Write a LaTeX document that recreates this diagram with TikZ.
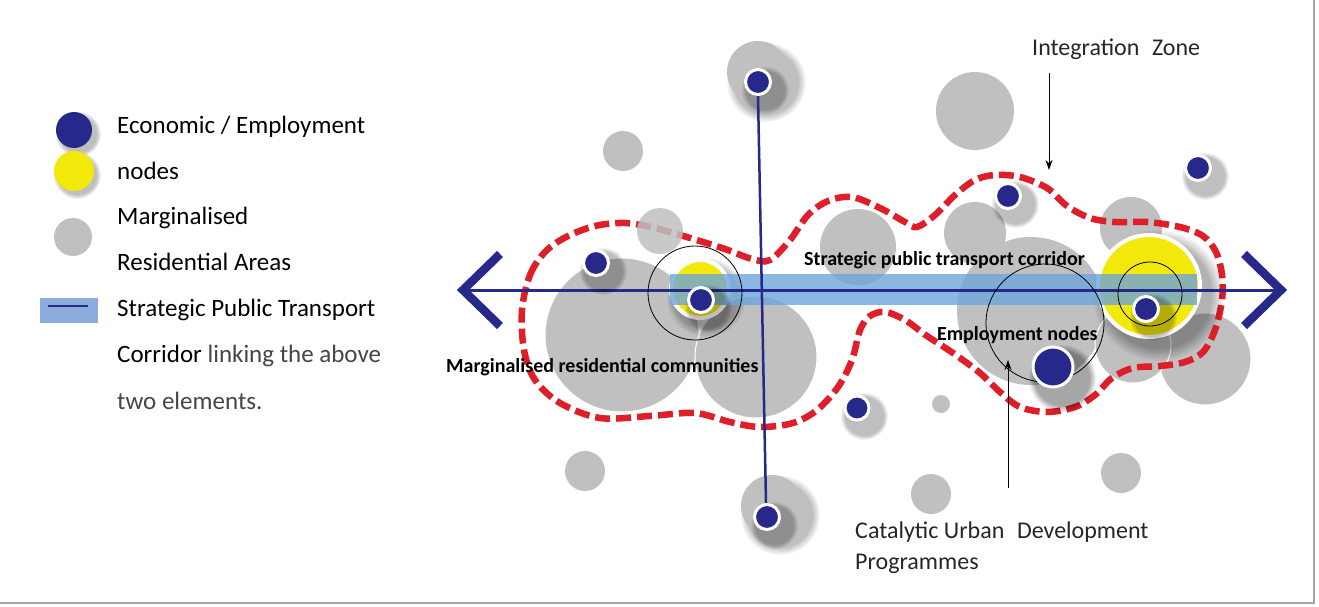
\documentclass[tikz,border=0pt]{standalone}
\usepackage{fontspec}
\setmainfont{Carlito}
\usetikzlibrary{arrows.meta,fadings,calc}
\definecolor{navy}{RGB}{38,40,138}
\definecolor{ylw}{RGB}{242,232,10}
\definecolor{gry}{RGB}{192,192,192}
\definecolor{zred}{RGB}{222,30,40}
\definecolor{band}{RGB}{110,165,220}
\definecolor{legblue}{RGB}{140,172,222}
\definecolor{txtgray}{RGB}{70,70,70}
\begin{document}
\begin{tikzpicture}[x=1pt,y=-1pt,
  gc/.style={circle,fill=gry,inner sep=0pt,minimum size=#1},
  yc/.style={circle,fill=ylw,draw=white,line width=4pt,inner sep=0pt,minimum size=#1},
  bd/.style={circle,fill=navy,draw=white,line width=3pt,inner sep=0pt,minimum size=#1},
  ring/.style={circle,draw=black,line width=0.8pt,inner sep=0pt,minimum size=#1},
  shd/.style={fill=black,fill opacity=0.25,path fading=circle with fuzzy edge 20 percent},
  legtxt/.style={font=\fontsize{25}{30}\selectfont,anchor=base west,inner sep=0pt},
  lbl/.style={font=\fontsize{24}{29}\selectfont,anchor=base west,inner sep=0pt,text=black!85},
  bold/.style={font=\fontsize{20}{24}\selectfont\bfseries,anchor=base west,inner sep=0pt},
  zone/.style={zred,line width=6.5pt,dash pattern=on 15pt off 6pt},
  navyline/.style={navy,line width=3pt},
  chev/.style={navy,line width=8.5pt},
  pointer/.style={black,line width=0.9pt,-{Stealth[length=10pt,width=7pt]}}
]
\useasboundingbox (0,0) rectangle (1319,607);
\fill[white] (0,0) rectangle (1319,607);
\draw[black!35,line width=2pt] (1314,0) -- (1314,603) -- (0,603);

% ---------- legend ----------
\fill[shd] (78,134) circle (23);
\node[circle,fill=navy,inner sep=0pt,minimum size=36pt] (lb) at (74,130) {};
\fill[shd] (77,175) circle (24);
\node[circle,fill=ylw,inner sep=0pt,minimum size=40pt] (ly) at (74,171) {};
\node[circle,fill=gry,inner sep=0pt,minimum size=38pt] (lg) at (73,237) {};
\node[rectangle,fill=legblue,inner sep=0pt,minimum width=58pt,minimum height=25pt] (lr) at (69,310.5) {};
\draw[navy,line width=1.5pt] ($(lr.west)+(8,-4.5)$) -- ($(lr.east)+(-10,-4.5)$);

\node[legtxt] (t1) at (117,133) {Economic / Employment};
\node[legtxt] (t2) at (117,179) {nodes};
\node[legtxt] (t3) at (117,224) {Marginalised};
\node[legtxt] (t4) at (117,270) {Residential Areas};
\node[legtxt] (t5) at (117,316) {Strategic Public Transport};
\node[legtxt] (t6) at (117,362) {Corridor \textcolor{txtgray}{linking the above}};
\node[legtxt,text=txtgray] (t7) at (117,409) {two elements.};

% ---------- gray residential areas ----------
\fill[shd] (766,82) circle (40);
\node[gc=62pt] (g1) at (758,72) {};
\node[gc=40pt] (g2) at (623,151) {};
\node[gc=154pt,draw=white,line width=1pt] (g4) at (622,335) {};
\node[gc=122pt,draw=white,line width=1pt] (g5) at (756,357) {};
\node[gc=40pt] (g6) at (585,471) {};
\fill[shd] (780,515) circle (40);
\node[gc=62pt] (g7) at (772,506) {};
\node[gc=78pt] (g8) at (975,111) {};
\node[gc=76pt] (g9) at (858,247) {};
\node[gc=62pt] (g10) at (975,233) {};
\node[gc=148pt] (g11) at (1031,311) {};
\node[gc=62pt] (g12) at (1131,228) {};
\node[gc=92pt,draw=white,line width=1pt] (g13) at (1205,359) {};
\node[gc=76pt,draw=white,line width=1pt] (g14) at (1133,345) {};
\node[gc=18pt] (g15) at (941,404) {};
\node[gc=40pt] (g16) at (931,494) {};
\node[gc=40pt] (g17) at (1121,473) {};

% ---------- integration zone ----------
\draw[zone] plot[smooth cycle,tension=0.55] coordinates {
(522,310) (530,275) (545,252) (566,237) (595,226) (625,223) (655,228) (690,238)
(725,249) (752,259) (770,260) (790,240) (808,215) (828,201) (852,197) (880,208)
(905,222) (917,227) (935,215) (955,195) (975,180) (995,175) (1020,177) (1047,188)
(1067,206) (1090,218) (1115,222) (1147,222) (1180,227) (1203,236) (1216,252)
(1222,275) (1222,300) (1215,330) (1203,352) (1185,362) (1160,366) (1133,368)
(1112,378) (1095,395) (1075,407) (1047,412) (1020,407) (1000,392) (980,373)
(953,353) (927,336) (905,320) (885,312) (870,316) (860,330) (852,360) (838,387)
(817,410) (793,423) (760,427) (730,422) (695,413) (650,416) (600,418) (560,403)
(535,380) (524,350)};
\node[gc=46pt,opacity=0.85] (g3) at (660,231) {};

% ---------- yellow nodes ----------
\fill[shd] (706,297) circle (40);
\node[yc=58pt] (y1) at (700,289) {};
\fill[shd,fill opacity=0.3] (1158,295) circle (66);
\node[yc=102pt] (y2) at (1149,286) {};

% ---------- transport corridor ----------
\fill[band,fill opacity=0.8] (670,274) rectangle (1197,305);
\node[bold] (lc) at (804,265) {Strategic public transport corridor};
\coordinate (hl) at (462,290);
\coordinate (hr) at (1282,290);
\draw[navyline] (hl) -- (hr);
\draw[chev,line cap=butt,line join=miter] ($(hl)+(38,-36)$) -- ($(hl)+(1,0)$) -- ($(hl)+(38,36)$);
\draw[chev,line cap=butt,line join=miter] ($(hr)+(-38,-36)$) -- ($(hr)+(-1,0)$) -- ($(hr)+(-38,36)$);

% ---------- rings ----------
\node[ring=94pt] (r1) at (695,293) {};
\node[ring=64pt] (r2) at (1150,294) {};
\node[ring=118pt] (r3) at (1045,323) {};

% ---------- economic nodes ----------
\foreach \x/\y in {758/82, 596/263, 701/300, 1008/196, 1198/168, 1146/309, 857/408, 767/517} {
  \fill[shd] (\x+7,\y+8) circle (24);
}
\fill[shd,fill opacity=0.35] (1062,378) circle (34);
\draw[navy,line width=2.5pt] (758,96) -- (766,503);
\foreach \x/\y/\n/\s in {758/82/d1/25pt, 596/263/d2/25pt, 701/300/d3/25pt, 1008/196/d4/25pt,
  1198/168/d5/25pt, 1146/309/d6/25pt, 857/408/d8/24pt, 767/517/d9/25pt} {
  \node[bd=\s] (\n) at (\x,\y) {};
}
\node[bd=40pt] (d7) at (1053,367) {};

% ---------- labels ----------
\node[bold] (le) at (937,340) {Employment nodes};
\node[bold] (lm) at (446,372) {Marginalised residential communities};

\node[lbl] (iz) at (1032,56) {Integration\hspace{0.3em} Zone};
\coordinate (izs) at (1049,73);
\coordinate (ize) at (1049,170);
\draw[pointer] (izs) -- (ize);

\node[lbl] (cu1) at (855,538) {Catalytic Urban\hspace{0.3em} Development};
\node[lbl] (cu2) at (855,569) {Programmes};
\coordinate (cus) at (1008,488);
\coordinate (cue) at (1008,360);
\draw[pointer] (cus) -- (cue);
\end{tikzpicture}
\end{document}
